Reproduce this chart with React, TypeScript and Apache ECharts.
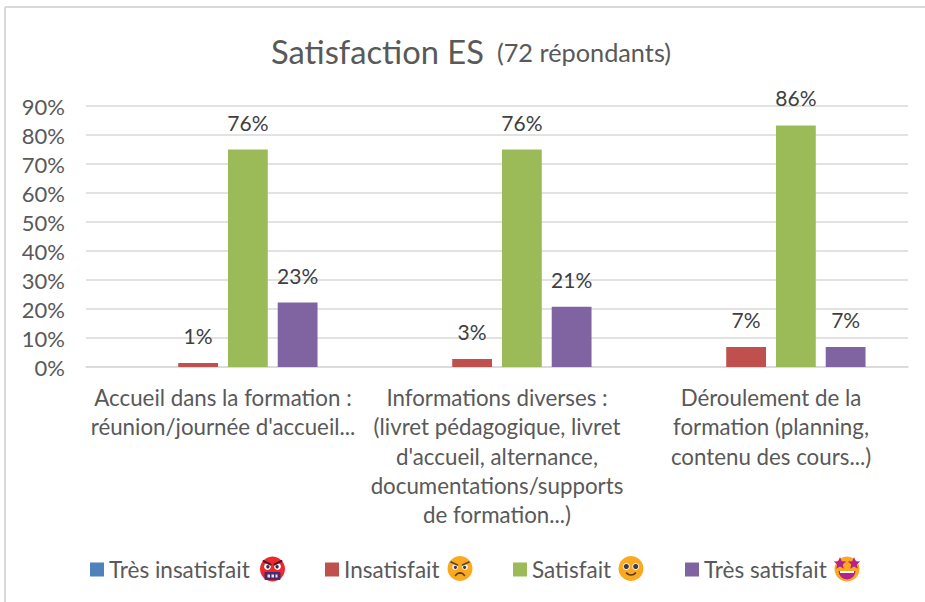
import React, { useEffect, useRef } from "react";
import * as echarts from "echarts";

const categories = [
  "Accueil dans la formation :\nréunion/journée d'accueil...",
  "Informations diverses :\n(livret pédagogique, livret\nd'accueil, alternance,\ndocumentations/supports\nde formation...)",
  "Déroulement de la\nformation (planning,\ncontenu des cours...)",
];
const seriesNames = ["Très insatisfait", "Insatisfait", "Satisfait", "Très satisfait"];
const seriesColors = ["#4F81BD", "#C0504D", "#9BBB59", "#8064A2"];
const tresInsatisfait: (number | null)[] = [null, null, null];
const insatisfait = [1.4, 2.8, 6.9];
const satisfait = [75, 75, 83.3];
const tresSatisfait = [22.2, 20.8, 6.9];
const insatisfaitLabels = ["1%", "3%", "7%"];
const satisfaitLabels = ["76%", "76%", "86%"];
const tresSatisfaitLabels = ["23%", "21%", "7%"];
const FONT = "Lato";

const star = (cx: number, cy: number, r: number) => {
  const pts: number[][] = [];
  for (let i = 0; i < 10; i++) {
    const a = -Math.PI / 2 + (i * Math.PI) / 5;
    const rr = i % 2 === 0 ? r : r * 0.45;
    pts.push([cx + rr * Math.cos(a), cy + rr * Math.sin(a)]);
  }
  return { type: "polygon", shape: { points: pts }, style: { fill: "#B5218F" } };
};
const circle = (cx: number, cy: number, r: number, fill: string) => ({
  type: "circle",
  shape: { cx, cy, r },
  style: { fill },
});
const stroke = (points: number[][], color: string, w: number) => ({
  type: "polyline",
  shape: { points },
  style: { stroke: color, lineWidth: w, fill: "none", lineCap: "round" },
});

const emojiRage = (x: number, y: number) => ({
  type: "group",
  x,
  y,
  children: [
    circle(0, 0, 12.5, "#F0282D"),
    circle(-5, -2.5, 3.4, "#FFFFFF"),
    circle(5, -2.5, 3.4, "#FFFFFF"),
    circle(-4.6, -2.2, 1.7, "#3A2A3A"),
    circle(4.6, -2.2, 1.7, "#3A2A3A"),
    stroke([[-9, -8], [-2, -4.5]], "#4A1A2A", 2),
    stroke([[9, -8], [2, -4.5]], "#4A1A2A", 2),
    { type: "rect", shape: { x: -8, y: 3, width: 16, height: 8, r: 1 }, style: { fill: "#4B2A6B" } },
    { type: "rect", shape: { x: -5, y: 5.5, width: 2.5, height: 3 }, style: { fill: "#E8E0F0" } },
    { type: "rect", shape: { x: -1, y: 5.5, width: 2.5, height: 3 }, style: { fill: "#E8E0F0" } },
    { type: "rect", shape: { x: 3, y: 5.5, width: 2, height: 3 }, style: { fill: "#E8E0F0" } },
  ],
});
const emojiAngry = (x: number, y: number) => ({
  type: "group",
  x,
  y,
  children: [
    circle(0, 0, 12.5, "#FBA91E"),
    circle(-5, -1.5, 3, "#F5F0EA"),
    circle(5, -1.5, 3, "#F5F0EA"),
    circle(-4.6, -1.2, 1.6, "#3F3A3A"),
    circle(4.6, -1.2, 1.6, "#3F3A3A"),
    stroke([[-9, -6.5], [-2.5, -3.5]], "#5A4030", 1.6),
    stroke([[9, -6.5], [2.5, -3.5]], "#5A4030", 1.6),
    stroke([[-4.5, 7], [-2.5, 5], [0, 4.4], [2.5, 5], [4.5, 7]], "#5A3A20", 1.6),
  ],
});
const emojiSmile = (x: number, y: number) => ({
  type: "group",
  x,
  y,
  children: [
    circle(0, 0, 12.5, "#FBA91E"),
    circle(-4.7, -2, 3.6, "#F6E9D6"),
    circle(4.7, -2, 3.6, "#F6E9D6"),
    circle(-4.7, -2, 2.5, "#3F3A45"),
    circle(4.7, -2, 2.5, "#3F3A45"),
    stroke([[-4.5, 4.5], [-2.5, 6], [0, 6.5], [2.5, 6], [4.5, 4.5]], "#5A3A20", 1.6),
  ],
});
const emojiStars = (x: number, y: number) => ({
  type: "group",
  x,
  y,
  children: [
    circle(0, 0.5, 12.5, "#FBA91E"),
    { type: "sector", shape: { cx: 0, cy: 2.5, r0: 0, r: 8.5, startAngle: 0, endAngle: Math.PI }, style: { fill: "#B5218F" } },
    { type: "rect", shape: { x: -7, y: 2.5, width: 14, height: 2 }, style: { fill: "#FFFFFF" } },
    star(-7, -5, 6.5),
    star(7, -5, 6.5),
  ],
});

const legendLefts = [85, 320, 508, 680];

export default function App() {
  const ref = useRef<HTMLDivElement>(null);
  useEffect(() => {
    const chart = echarts.init(ref.current!, undefined, { renderer: "svg" });
    const labelStyle = (labels: string[]) => ({
      show: true,
      position: "top" as const,
      distance: 17,
      color: "#404040",
      fontFamily: FONT,
      fontSize: 21,
      formatter: (p: any) => labels[p.dataIndex],
    });
    const barBase = { type: "bar" as const, barGap: "25%", barCategoryGap: "31%" };
    chart.setOption({
      animation: false,
      backgroundColor: "#FFFFFF",
      title: {
        text: "{a|Satisfaction ES} {b|(72 répondants)}",
        left: 466,
        top: 30,
        textAlign: "center",
        textStyle: {
          fontWeight: "normal",
          rich: {
            a: { fontFamily: FONT, fontSize: 32.7, color: "#595959", fontWeight: "normal" },
            b: { fontFamily: FONT, fontSize: 25.3, color: "#595959", fontWeight: "normal", padding: [0, 0, 0, 8] },
          },
        },
      },
      legend: seriesNames.map((n, i) => ({
        data: [n],
        left: legendLefts[i],
        top: 553,
        icon: "rect",
        itemWidth: 14,
        itemHeight: 14,
        selectedMode: false,
        textStyle: { fontFamily: FONT, fontSize: 22.5, color: "#595959" },
      })),
      grid: { left: 86, top: 106, width: 822, height: 261, containLabel: false },
      xAxis: {
        type: "category",
        data: categories,
        axisTick: { show: false },
        axisLine: { lineStyle: { color: "#D9D9D9", width: 1.5 } },
        axisLabel: {
          interval: 0,
          margin: 16,
          color: "#595959",
          fontFamily: FONT,
          fontSize: 22.3,
          lineHeight: 29.2,
          align: "center",
        },
      },
      yAxis: {
        type: "value",
        min: 0,
        max: 90,
        interval: 10,
        axisLine: { show: false },
        axisTick: { show: false },
        splitLine: { lineStyle: { color: "#D9D9D9", width: 1.5 } },
        axisLabel: {
          formatter: "{value}%",
          margin: 21,
          color: "#595959",
          fontFamily: FONT,
          fontSize: 22,
        },
      },
      series: [
        { ...barBase, name: seriesNames[0], data: tresInsatisfait, itemStyle: { color: seriesColors[0] } },
        { ...barBase, name: seriesNames[1], data: insatisfait, itemStyle: { color: seriesColors[1] }, label: labelStyle(insatisfaitLabels) },
        { ...barBase, name: seriesNames[2], data: satisfait, itemStyle: { color: seriesColors[2] }, label: labelStyle(satisfaitLabels) },
        { ...barBase, name: seriesNames[3], data: tresSatisfait, itemStyle: { color: seriesColors[3] }, label: labelStyle(tresSatisfaitLabels) },
      ],
      graphic: [
        { type: "line", shape: { x1: 5, y1: 7, x2: 925, y2: 7 }, style: { stroke: "#D9D9D9", lineWidth: 2 } },
        { type: "line", shape: { x1: 5, y1: 7, x2: 5, y2: 602 }, style: { stroke: "#D9D9D9", lineWidth: 2 } },
        emojiRage(272.5, 569),
        emojiAngry(460, 568.5),
        emojiSmile(631, 568.5),
        emojiStars(847, 568.5),
      ],
    });
    return () => chart.dispose();
  }, []);
  return <div ref={ref} style={{ position: "fixed", left: 0, top: 0, width: 925, height: 602 }} />;
}
